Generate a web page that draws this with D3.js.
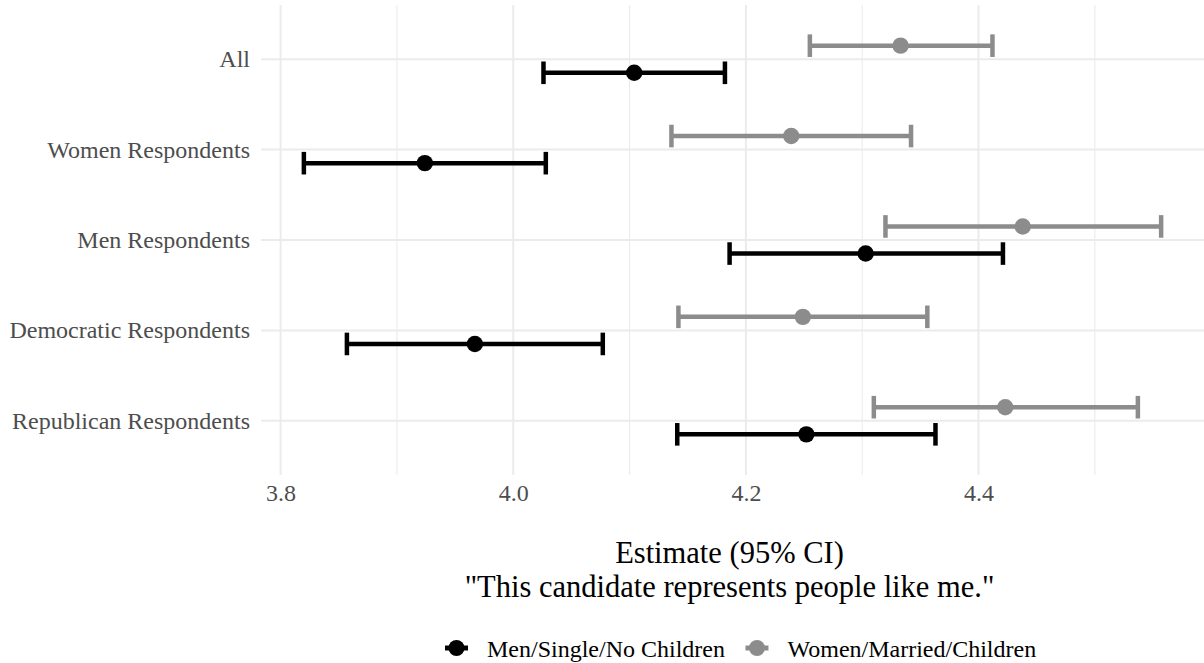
<!DOCTYPE html>
<html>
<head>
<meta charset="utf-8">
<script src="https://cdn.jsdelivr.net/npm/d3@7"></script>
<style>
  html, body { margin: 0; padding: 0; background: #ffffff; }
  svg { display: block; font-family: "Liberation Serif", "Times New Roman", serif; }
</style>
</head>
<body>
<svg id="chart" width="1204" height="663"></svg>
<script>
// ---- data ----
const categories = ["All", "Women Respondents", "Men Respondents", "Democratic Respondents", "Republican Respondents"];
const seriesNames = ["Men/Single/No Children", "Women/Married/Children"];
const menEst = [4.104, 3.924, 4.303, 3.967, 4.252];
const menLo  = [4.026, 3.820, 4.186, 3.857, 4.141];
const menHi  = [4.182, 4.028, 4.421, 4.077, 4.363];
const womenEst = [4.333, 4.239, 4.438, 4.249, 4.423];
const womenLo  = [4.255, 4.136, 4.320, 4.142, 4.310];
const womenHi  = [4.412, 4.342, 4.557, 4.356, 4.537];
const xTicks = [3.8, 4.0, 4.2, 4.4];
const xMinor = [3.9, 4.1, 4.3, 4.5];
const xTitleLines = ["Estimate (95% CI)", "\"This candidate represents people like me.\""];

// ---- layout ----
const FONT = "'Liberation Serif', 'Times New Roman', serif";
const svg = d3.select("#chart");
const panel = { left: 261, right: 1204, top: 5, bottom: 475 };
const colors = ["#000000", "#8c8c8c"];

const allVals = menLo.concat(menHi, womenLo, womenHi);
const dMin = d3.min(allVals), dMax = d3.max(allVals), dr = dMax - dMin;
const x = d3.scaleLinear().domain([dMin - 0.05 * dr, dMax + 0.05 * dr]).range([panel.left, panel.right]);
const y = d3.scalePoint().domain(categories).range([panel.top, panel.bottom]).padding(0.6);
const step = y.step();
const dodge = [0.15 * step, -0.15 * step];
const capHalf = 0.125 * step;

const series = [
  { name: seriesNames[0], est: menEst, lo: menLo, hi: menHi, color: colors[0], off: dodge[0] },
  { name: seriesNames[1], est: womenEst, lo: womenLo, hi: womenHi, color: colors[1], off: dodge[1] }
];

// grid
const g = svg.append("g");
g.selectAll("line.minor").data(xMinor.filter(v => x(v) <= panel.right)).enter().append("line")
  .attr("x1", d => x(d)).attr("x2", d => x(d))
  .attr("y1", panel.top).attr("y2", panel.bottom)
  .attr("stroke", "#ebebeb").attr("stroke-width", 1.1);
g.selectAll("line.major").data(xTicks).enter().append("line")
  .attr("x1", d => x(d)).attr("x2", d => x(d))
  .attr("y1", panel.top).attr("y2", panel.bottom)
  .attr("stroke", "#ebebeb").attr("stroke-width", 2);
g.selectAll("line.hgrid").data(categories).enter().append("line")
  .attr("x1", panel.left).attr("x2", panel.right)
  .attr("y1", d => y(d)).attr("y2", d => y(d))
  .attr("stroke", "#ebebeb").attr("stroke-width", 2);

// axes text
const xAxis = d3.axisBottom(x).tickValues(xTicks).tickFormat(d3.format(".1f")).tickSize(0).tickPadding(0);
const xg = svg.append("g").attr("transform", `translate(0,${panel.bottom})`).call(xAxis)
  .attr("font-family", FONT).attr("font-size", 24);
xg.select(".domain").remove();
xg.selectAll("text").attr("dy", null).attr("y", 25.5)
  .attr("fill", "#4d4d4d").style("font-size", "24px").style("font-family", FONT);

const yAxis = d3.axisLeft(y).tickSize(0).tickPadding(0);
const yg = svg.append("g").attr("transform", `translate(250,0)`).call(yAxis)
  .attr("font-family", FONT).attr("font-size", 24);
yg.select(".domain").remove();
yg.selectAll("text").attr("dy", null).attr("x", 0).attr("y", 7.5)
  .attr("fill", "#4d4d4d").style("font-size", "24px").style("font-family", FONT);

// error bars and points
series.forEach(s => {
  const sg = svg.append("g");
  const data = categories.map((c, i) => ({ c, est: s.est[i], lo: s.lo[i], hi: s.hi[i] }));
  sg.selectAll("line.bar").data(data).enter().append("line")
    .attr("x1", d => x(d.lo)).attr("x2", d => x(d.hi))
    .attr("y1", d => y(d.c) + s.off).attr("y2", d => y(d.c) + s.off)
    .attr("stroke", s.color).attr("stroke-width", 4.5);
  sg.selectAll("line.capl").data(data).enter().append("line")
    .attr("x1", d => x(d.lo)).attr("x2", d => x(d.lo))
    .attr("y1", d => y(d.c) + s.off - capHalf).attr("y2", d => y(d.c) + s.off + capHalf)
    .attr("stroke", s.color).attr("stroke-width", 4.5);
  sg.selectAll("line.caph").data(data).enter().append("line")
    .attr("x1", d => x(d.hi)).attr("x2", d => x(d.hi))
    .attr("y1", d => y(d.c) + s.off - capHalf).attr("y2", d => y(d.c) + s.off + capHalf)
    .attr("stroke", s.color).attr("stroke-width", 4.5);
  sg.selectAll("circle").data(data).enter().append("circle")
    .attr("cx", d => x(d.est)).attr("cy", d => y(d.c) + s.off)
    .attr("r", 8.2).attr("fill", s.color);
});

// axis title
const cx = (panel.left + panel.right) / 2 - 3;
svg.append("text").attr("x", cx).attr("y", 563).attr("text-anchor", "middle")
  .style("font-size", "30.5px").attr("fill", "#000").text(xTitleLines[0]);
svg.append("text").attr("x", cx).attr("y", 597).attr("text-anchor", "middle")
  .style("font-size", "30.5px").attr("fill", "#000").text(xTitleLines[1]);

// legend
const leg = svg.append("g");
let kx = 456.5;
const ly = 648;
series.forEach(s => {
  leg.append("line").attr("x1", kx - 11.5).attr("x2", kx + 11.5).attr("y1", ly).attr("y2", ly)
    .attr("stroke", s.color).attr("stroke-width", 5);
  leg.append("circle").attr("cx", kx).attr("cy", ly).attr("r", 8).attr("fill", s.color);
  const t = leg.append("text").attr("x", kx + 30.5).attr("y", 656.5)
    .style("font-size", "24px").attr("fill", "#000").text(s.name);
  const w = t.node().getComputedTextLength();
  kx = kx + 30.5 + w + 32;
});
</script>
</body>
</html>
